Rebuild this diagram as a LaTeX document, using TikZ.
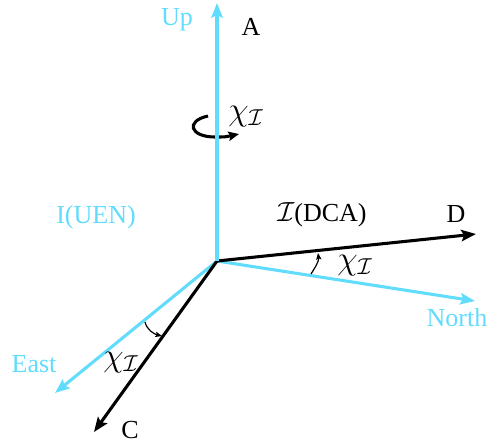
\documentclass[tikz,border=0pt]{standalone}
\usepackage{fontspec}
\setmainfont{Liberation Serif}
\usetikzlibrary{arrows.meta}
\definecolor{axcyan}{RGB}{97,220,253}
\begin{document}
\begin{tikzpicture}[x=0.75pt,y=-0.75pt,
  lbl/.style={font=\fontsize{19.5}{22}\selectfont, inner sep=0pt},
  chilbl/.style={font=\fontsize{23}{26}\selectfont, inner sep=0pt},
  cyanlbl/.style={lbl, text=axcyan},
  axis/.style={line width=2.3pt, -{Stealth[length=11pt,width=8.5pt,inset=2pt]}},
  anglearc/.style={line width=0.9pt, black, -{Stealth[length=5pt,width=4pt,inset=1pt]}}]
\useasboundingbox (0,0) rectangle (488,444);
\coordinate (O) at (217,261);
\coordinate (upT) at (217,3);
\coordinate (dT) at (476,234);
\coordinate (nT) at (475,301);
\coordinate (eT) at (55,393);
\coordinate (cT) at (94,432);
% cyan (UEN) axes
\draw[axis, axcyan] (O) -- (nT);
\draw[axis, axcyan] (O) -- (eT);
% black (DCA) axes
\draw[axis, black] (O) -- (dT);
\draw[axis, black] (O) -- (cT);
% rotation arrow about Up
\coordinate (r0) at (208,116);
\coordinate (r1) at (215,137);
\coordinate (r2) at (239,134);
\draw[line width=2.3pt, -{Stealth[length=8pt,width=7pt,inset=1.5pt]}] (r0) .. controls (185,121) and (190,137) .. (r1) .. controls (225,137) .. (r2);
\draw[axis, axcyan] (O) -- (upT);
% angle arcs
\coordinate (a1s) at (311,274);
\coordinate (a1e) at (318,253);
\draw[anglearc] (a1s) .. controls (316,266) and (319,261) .. (a1e);
\coordinate (a2s) at (145,322);
\coordinate (a2e) at (162,336);
\draw[anglearc] (a2s) .. controls (147,330) and (154,334) .. (a2e);
% labels
\node[cyanlbl] (up) at (177,20) {Up};
\node[lbl] (A) at (251,27) {A};
\node[chilbl] (chi1) at (246,117) {$\chi_{\mathcal{I}}$};
\node[cyanlbl] (uen) at (96,217) {I(UEN)};
\node[lbl] (dca) at (322,215) {$\mathcal{I}$(DCA)};
\node[lbl] (D) at (456,214) {D};
\node[chilbl] (chi2) at (355,266) {$\chi_{\mathcal{I}}$};
\node[cyanlbl] (north) at (457,318) {North};
\node[cyanlbl] (east) at (34,364) {East};
\node[chilbl] (chi3) at (121,363) {$\chi_{\mathcal{I}}$};
\node[lbl] (C) at (130,430) {C};
\end{tikzpicture}
\end{document}
